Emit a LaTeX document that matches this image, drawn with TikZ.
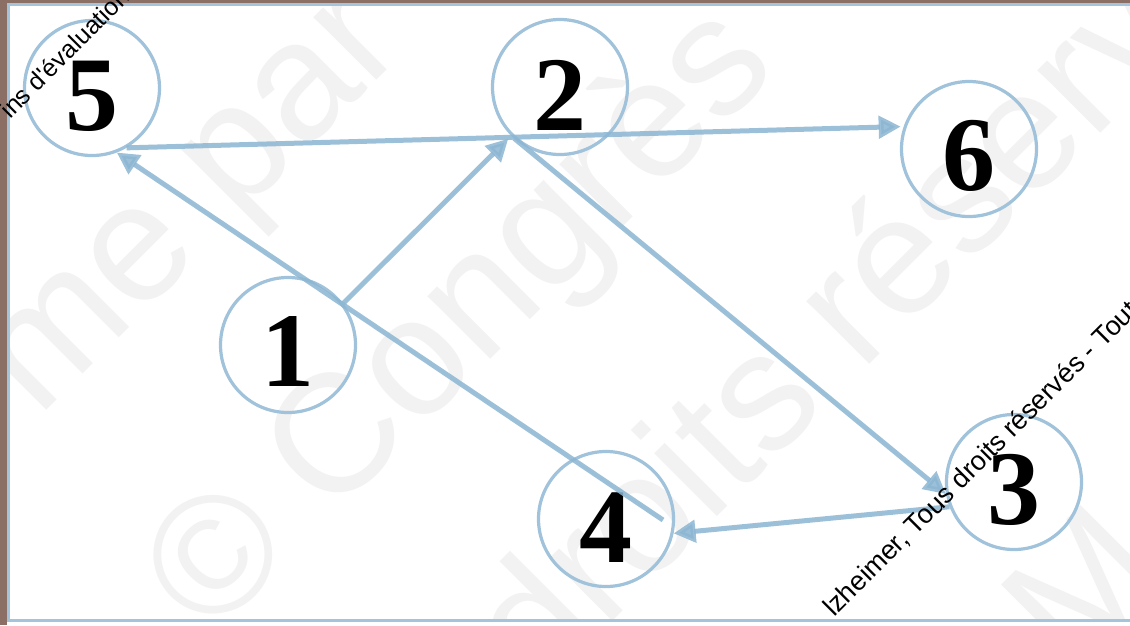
\documentclass[tikz,border=0pt]{standalone}
\usepackage{fontspec}
\setmainfont{Liberation Serif}
\newfontfamily\sansf{Liberation Sans}
\newfontfamily\wmfont{Liberation Sans}
\usetikzlibrary{arrows.meta}
\definecolor{framebrown}{RGB}{139,111,100}
\definecolor{frameblue}{RGB}{164,196,220}
\definecolor{ringblue}{RGB}{160,194,218}
\definecolor{edgeblue}{RGB}{140,182,211}
\definecolor{wmgray}{RGB}{242,242,242}
\begin{document}
\begin{tikzpicture}[x=1pt,y=-1pt,
  vtx/.style={circle, draw=ringblue, line width=3.2pt, minimum size=135pt, inner sep=0pt},
  digit/.style={font=\fontsize{106}{106}\selectfont\bfseries, inner sep=0pt},
  edge/.style={draw=edgeblue, fill=edgeblue, draw opacity=0.85, fill opacity=0.85,
    line width=5pt, -{Triangle[length=22pt,width=22pt]}},
  wm/.style={font=\wmfont\fontsize{168}{168}\selectfont, text=wmgray, rotate=45,
    anchor=base west, inner sep=0pt},
  stamp/.style={font=\sansf\fontsize{#1}{#1}\selectfont, text=black, rotate=45,
    anchor=base west, inner sep=0pt}]
\useasboundingbox (0,0) rectangle (1130,625);
\fill[white] (0,0) rectangle (1130,625);
% watermark
\begin{scope}
\clip (10,6) rectangle (1130,619);
\node[wm] (w1) at (38,419) {me par};
\node[wm] (w2) at (210,640) {© Congrès};
\node[wm] (w3) at (538,696) {droits réservés};
\node[wm] (w4) at (1073,677) {M};
\end{scope}
% frame
\fill[framebrown] (0,0) rectangle (7,625);
\fill[framebrown] (0,0) rectangle (1130,3);
\draw[frameblue, line width=3pt] (1140,4.5) -- (8.5,4.5) -- (8.5,620.5) -- (1140,620.5);
% vertices
\node[vtx] (n5) at (92,88) {};
\node[vtx] (n2) at (560,87) {};
\node[vtx] (n6) at (969,149) {};
\node[vtx] (n1) at (288,345) {};
\node[vtx] (n4) at (606,519) {};
\node[vtx] (n3) at (1014,482) {};
\node[digit] (d5) at ([yshift=-8pt]n5.center) {5};
\node[digit] (d2) at ([yshift=-8pt]n2.center) {2};
\node[digit] (d6) at ([yshift=-7pt]n6.center) {6};
\node[digit] (d1) at ([yshift=-7pt]n1.center) {1};
\node[digit] (d4) at ([yshift=-9pt]n4.center) {4};
\node[digit] (d3) at ([yshift=-8pt]n3.center) {3};
% connectors
\coordinate (c4) at (663,520);
\draw[edge, shorten >=3pt] (n5.300) -- (n6.161);
\draw[edge, shorten >=4pt] (n1.37) -- (n2.225);
\draw[edge, shorten <=4pt] (n2.225) -- (n3.190);
\draw[edge] (n3.201) -- (n4.348);
\draw[edge] (c4) -- (n5.291);
% stamps
\node[stamp=25] (s1) at (10,120) {ins d'évaluation};
\node[stamp=27] (s2) at (834,618) {lzheimer, Tous droits réservés - Tout};
\end{tikzpicture}
\end{document}
